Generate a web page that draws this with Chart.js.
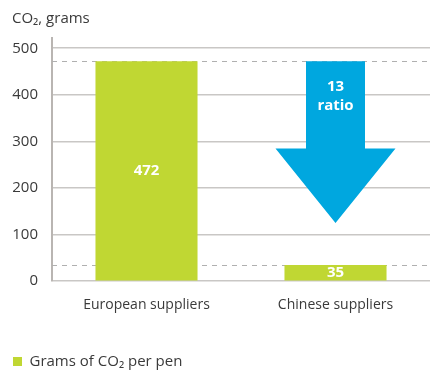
<!DOCTYPE html>
<html>
<head>
<meta charset="utf-8">
<script src="https://cdn.jsdelivr.net/npm/chart.js@4"></script>
<style>
  html, body { margin: 0; padding: 0; background: #fff; }
  #wrap { width: 430px; height: 371px; }
</style>
</head>
<body>
<div id="wrap"><canvas id="co2"></canvas></div>
<script>
var categories = ['European suppliers', 'Chinese suppliers'];
var gramsPerPen = [472, 35];
var yTicks = [0, 100, 200, 300, 400, 500];
var ratioText = ['13', 'ratio'];

var green = '#c0d733';
var blue = '#00a7df';
var textColor = '#3a3a3a';

// dashed guide lines at the top of each bar, behind the bars
var guideLines = {
  id: 'guideLines',
  beforeDatasetsDraw: function(chart) {
    var ctx = chart.ctx, area = chart.chartArea, y = chart.scales.y;
    ctx.save();
    ctx.strokeStyle = '#b0b0b0';
    ctx.lineWidth = 1;
    ctx.setLineDash([5, 5]);
    gramsPerPen.forEach(function(v) {
      var py = Math.round(y.getPixelForValue(v)) + 0.5;
      ctx.beginPath();
      ctx.moveTo(area.left, py);
      ctx.lineTo(area.right, py);
      ctx.stroke();
    });
    ctx.restore();
  }
};

// value labels inside bars and the big ratio arrow
var barExtras = {
  id: 'barExtras',
  afterDatasetsDraw: function(chart) {
    var ctx = chart.ctx;
    var bars = chart.getDatasetMeta(0).data;
    ctx.save();
    ctx.fillStyle = '#fff';
    ctx.font = 'bold 15px "Open Sans"';
    ctx.textAlign = 'center';
    ctx.textBaseline = 'middle';
    bars.forEach(function(bar, i) {
      ctx.fillText(gramsPerPen[i], bar.x, (bar.y + bar.base) / 2);
    });

    var hi = bars[0], lo = bars[1];
    var cx = lo.x;
    var top = hi.y;
    var tip = lo.y - 42;
    var neck = top + (tip - top) * 0.54;
    var shaft = 29.5, head = 60;
    ctx.fillStyle = blue;
    ctx.beginPath();
    ctx.moveTo(cx - shaft, top);
    ctx.lineTo(cx + shaft, top);
    ctx.lineTo(cx + shaft, neck);
    ctx.lineTo(cx + head, neck);
    ctx.lineTo(cx, tip);
    ctx.lineTo(cx - head, neck);
    ctx.lineTo(cx - shaft, neck);
    ctx.closePath();
    ctx.fill();

    ctx.fillStyle = '#fff';
    ctx.fillText(ratioText[0], cx, top + 25);
    ctx.fillText(ratioText[1], cx, top + 44);
    ctx.restore();
  }
};

var ctx = document.getElementById('co2').getContext('2d');
var myChart = new Chart(ctx, {
  type: 'bar',
  data: {
    labels: categories,
    datasets: [
      {
        label: 'Grams of CO\u2082 per pen',
        data: gramsPerPen,
        backgroundColor: green,
        borderWidth: 0,
        categoryPercentage: 1,
        barPercentage: 0.54
      }
    ]
  },
  options: {
    responsive: true,
    maintainAspectRatio: false,
    animation: false,
    layout: {
      padding: { left: 12, right: -4, top: 0, bottom: -8 }
    },
    plugins: {
      title: {
        display: true,
        text: 'CO\u2082, grams',
        align: 'start',
        color: textColor,
        font: { family: 'Open Sans', size: 15, weight: 'normal' },
        padding: { top: 10, bottom: 10 }
      },
      legend: {
        display: true,
        position: 'bottom',
        align: 'start',
        labels: {
          boxWidth: 9,
          boxHeight: 9,
          padding: 1,
          color: textColor,
          font: { family: 'Open Sans', size: 15 }
        }
      },
      tooltip: { enabled: false }
    },
    scales: {
      x: {
        grid: { display: false, drawTicks: false },
        border: { display: false },
        afterFit: function(scale) {
          scale.height += 25;
        },
        ticks: {
          color: textColor,
          padding: 15,
          font: { family: 'Open Sans', size: 14 }
        }
      },
      y: {
        min: 0,
        max: 522,
        afterBuildTicks: function(scale) {
          scale.ticks = yTicks.map(function(v) { return { value: v }; });
        },
        afterFit: function(scale) {
          scale.width = 40;
        },
        grid: {
          color: '#c9c7c5',
          lineWidth: 1.5,
          drawTicks: false
        },
        border: { display: true, color: '#b9b5b2', width: 2 },
        ticks: {
          color: textColor,
          padding: 14,
          font: { family: 'Open Sans', size: 15 }
        }
      }
    }
  },
  plugins: [guideLines, barExtras]
});
</script>
</body>
</html>
